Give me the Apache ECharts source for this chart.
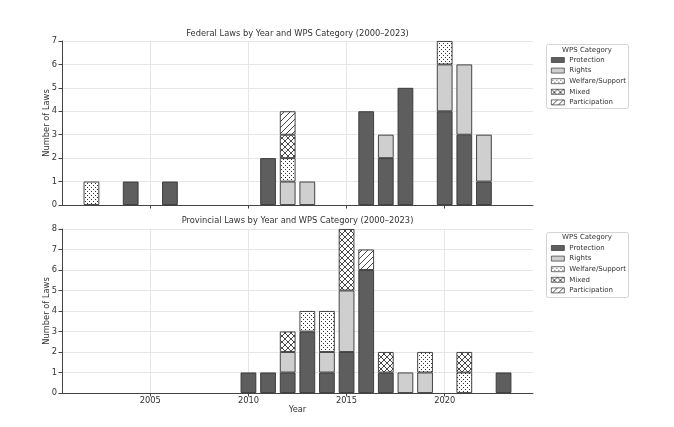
<!DOCTYPE html>
<html><head><meta charset="utf-8">
<script src="https://cdn.jsdelivr.net/npm/echarts@6/dist/echarts.min.js"></script>
<style>html,body{margin:0;padding:0;background:#fff}#c{width:674px;height:427px}</style>
</head><body><div id="c"></div>
<script>
const years = ['2001','2002','2003','2004','2005','2006','2007','2008','2009','2010','2011','2012',
               '2013','2014','2015','2016','2017','2018','2019','2020','2021','2022','2023','2024'];
const tickYears = ['2005','2010','2015','2020'];
const categories = ['Protection','Rights','Welfare/Support','Mixed','Participation'];

// Federal laws (per year, 2001..2024)
const fedProtection    = [0,0,0,1,0,1,0,0,0,0,2,0,0,0,0,4,2,5,0,4,3,1,0,0];
const fedRights        = [0,0,0,0,0,0,0,0,0,0,0,1,1,0,0,0,1,0,0,2,3,2,0,0];
const fedWelfare       = [0,1,0,0,0,0,0,0,0,0,0,1,0,0,0,0,0,0,0,1,0,0,0,0];
const fedMixed         = [0,0,0,0,0,0,0,0,0,0,0,1,0,0,0,0,0,0,0,0,0,0,0,0];
const fedParticipation = [0,0,0,0,0,0,0,0,0,0,0,1,0,0,0,0,0,0,0,0,0,0,0,0];

// Provincial laws (per year, 2001..2024)
const provProtection    = [0,0,0,0,0,0,0,0,0,1,1,1,3,1,2,6,1,0,0,0,0,0,1,0];
const provRights        = [0,0,0,0,0,0,0,0,0,0,0,1,0,1,3,0,0,1,1,0,0,0,0,0];
const provWelfare       = [0,0,0,0,0,0,0,0,0,0,0,0,1,2,0,0,0,0,1,0,1,0,0,0];
const provMixed         = [0,0,0,0,0,0,0,0,0,0,0,1,0,0,3,0,1,0,0,0,1,0,0,0];
const provParticipation = [0,0,0,0,0,0,0,0,0,0,0,0,0,0,0,1,0,0,0,0,0,0,0,0];

const FONT = 'DejaVu Sans';

function makePattern(kind){
  const s = kind === 'dots' ? 4 : 6;
  const c = document.createElement('canvas');
  c.width = s; c.height = s;
  const g = c.getContext('2d');
  g.fillStyle = '#fff'; g.fillRect(0,0,s,s);
  g.strokeStyle = '#333'; g.fillStyle = '#333'; g.lineWidth = 0.9;
  if (kind === 'dots') {
    g.fillRect(1,1,1,1); g.fillRect(3,3,1,1);
  } else if (kind === 'cross') {
    g.beginPath();
    g.moveTo(0,0); g.lineTo(s,s);
    g.moveTo(s,0); g.lineTo(0,s);
    g.stroke();
  } else {
    g.beginPath();
    g.moveTo(0,s); g.lineTo(s,0);
    g.moveTo(-1,1); g.lineTo(1,-1);
    g.moveTo(s-1,s+1); g.lineTo(s+1,s-1);
    g.stroke();
  }
  return {image: c, repeat: 'repeat'};
}
const fills = ['#5e5e5e', '#cfcfcf', makePattern('dots'), makePattern('cross'), makePattern('diag')];

function isTick(i, v){ return tickYears.indexOf(v) >= 0; }

function bar(name, idx, data, gi){
  const s = {
    type: 'bar', name: name, stack: 'g' + gi,
    xAxisIndex: gi, yAxisIndex: gi,
    data: data.map(v => v === 0 ? null : v),
    barWidth: '80%',
    itemStyle: {color: fills[idx], borderColor: '#333', borderWidth: 0.9},
    emphasis: {disabled: true},
    animation: false
  };
  if (idx === 0) {
    s.markLine = {
      silent: true, symbol: 'none', z: 1, animation: false,
      label: {show: false},
      lineStyle: {color: '#e6e6e6', type: 'solid', width: 1},
      data: tickYears.map(y => ({xAxis: y}))
    };
  }
  return s;
}

const fedSets = [fedProtection, fedRights, fedWelfare, fedMixed, fedParticipation];
const provSets = [provProtection, provRights, provWelfare, provMixed, provParticipation];
const series = [];
categories.forEach((n, i) => series.push(bar(n, i, fedSets[i], 0)));
categories.forEach((n, i) => series.push(bar(n, i, provSets[i], 1)));

function xAxis(gi){
  const ax = {
    type: 'category', gridIndex: gi, data: years, boundaryGap: true,
    axisLine: {lineStyle: {color: '#444', width: 1}},
    axisTick: {show: true, alignWithLabel: true, interval: isTick, length: 3.5, lineStyle: {color: '#444'}},
    axisLabel: {show: gi === 1, interval: isTick, fontFamily: FONT, fontSize: 8.3, color: '#333', margin: 4},
    splitLine: {show: false}
  };
  if (gi === 1) {
    ax.name = 'Year'; ax.nameLocation = 'middle'; ax.nameGap = 13; ax.nameMoveOverlap = false;
    ax.nameTextStyle = {fontFamily: FONT, fontSize: 8.3, color: '#333'};
  }
  return ax;
}
function yAxis(gi, max){
  return {
    type: 'value', gridIndex: gi, min: 0, max: max, interval: 1,
    name: 'Number of Laws', nameLocation: 'middle', nameGap: 11, nameMoveOverlap: false,
    nameTextStyle: {fontFamily: FONT, fontSize: 8.3, color: '#333'},
    axisLine: {show: true, lineStyle: {color: '#444', width: 1}},
    axisTick: {show: true, length: 3.5, lineStyle: {color: '#444'}},
    axisLabel: {fontFamily: FONT, fontSize: 8.3, color: '#333', margin: 5},
    splitLine: {show: true, lineStyle: {color: '#e6e6e6', width: 1}}
  };
}
function legend(top){
  return {
    orient: 'vertical', left: 551, top: top, padding: 0,
    icon: 'rect', itemWidth: 13, itemHeight: 5, itemGap: 2.6,
    selectedMode: false,
    itemStyle: {borderWidth: 0.7, borderColor: '#333'},
    textStyle: {fontFamily: FONT, fontSize: 7, color: '#333', lineHeight: 8},
    data: categories
  };
}
function titleAt(text, left, top, size){
  return {text: text, left: left, top: top, textAlign: 'center', padding: 0,
          textStyle: {fontFamily: FONT, fontSize: size, fontWeight: 'normal', color: '#333'}};
}

const chart = echarts.init(document.getElementById('c'), null, {renderer: 'canvas'});
chart.setOption({
  backgroundColor: '#fff',
  animation: false,
  title: [
    titleAt('Federal Laws by Year and WPS Category (2000–2023)', 297.5, 29.5, 8.3),
    titleAt('Provincial Laws by Year and WPS Category (2000–2023)', 297.5, 217, 8.3),
    titleAt('WPS Category', 587, 46.5, 7),
    titleAt('WPS Category', 587, 234, 7)
  ],
  graphic: [
    {type: 'rect', left: 546, top: 44, z: 1, shape: {width: 82, height: 64, r: 2},
     style: {fill: '#fff', stroke: '#d4d4d4', lineWidth: 1}},
    {type: 'rect', left: 546, top: 232, z: 1, shape: {width: 82, height: 65, r: 2},
     style: {fill: '#fff', stroke: '#d4d4d4', lineWidth: 1}}
  ],
  legend: [legend(56), legend(244)],
  grid: [
    {left: 62, top: 41, right: 141, height: 164},
    {left: 62, top: 229, right: 141, height: 164}
  ],
  xAxis: [xAxis(0), xAxis(1)],
  yAxis: [yAxis(0, 7), yAxis(1, 8)],
  series: series
});
</script>
</body></html>
